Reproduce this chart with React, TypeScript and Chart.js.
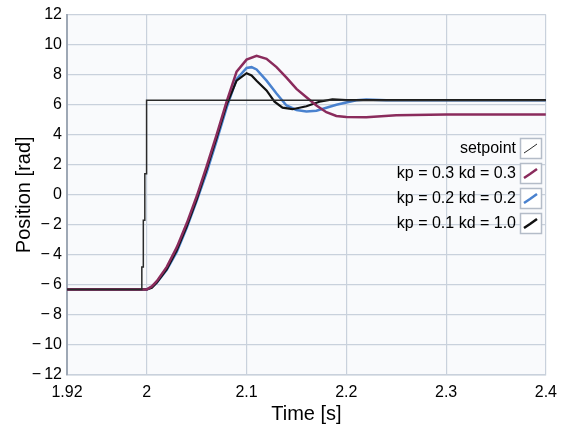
import React, { useEffect, useRef } from "react";
import { Chart, registerables } from "chart.js";

Chart.register(...registerables);

// ---- data ----
const seriesLabels = ["setpoint", "kp = 0.3 kd = 0.3", "kp = 0.2 kd = 0.2", "kp = 0.1 kd = 1.0"];
const seriesColors = ["#2b2b2b", "#8a2b5c", "#4a82cf", "#111111"];

const setpointT = [1.92, 1.995, 1.995, 1.9965, 1.9965, 1.998, 1.998, 1.9993, 1.9993, 2.0, 2.0, 2.4];
const setpointY = [-6.3, -6.3, -4.8, -4.8, -1.7, -1.7, 1.4, 1.4, 4.6, 4.6, 6.3, 6.3];

const magentaT = [1.92, 2.0, 2.005, 2.01, 2.02, 2.03, 2.04, 2.05, 2.06, 2.07, 2.08, 2.09, 2.1, 2.11, 2.12, 2.13, 2.14, 2.15, 2.16, 2.17, 2.18, 2.19, 2.2, 2.22, 2.25, 2.3, 2.4];
const magentaY = [-6.3, -6.3, -6.1, -5.75, -4.8, -3.5, -1.9, -0.1, 1.9, 4.0, 6.2, 8.2, 9.0, 9.25, 9.05, 8.5, 7.8, 7.05, 6.5, 5.95, 5.5, 5.25, 5.18, 5.16, 5.3, 5.35, 5.35];

const blueT = [1.92, 2.0, 2.005, 2.01, 2.02, 2.03, 2.04, 2.05, 2.06, 2.07, 2.08, 2.09, 2.1, 2.105, 2.11, 2.12, 2.13, 2.14, 2.15, 2.16, 2.17, 2.18, 2.19, 2.2, 2.21, 2.22, 2.24, 2.4];
const blueY = [-6.3, -6.3, -6.15, -5.85, -5.0, -3.8, -2.2, -0.4, 1.5, 3.6, 5.8, 7.7, 8.45, 8.5, 8.35, 7.6, 6.75, 5.95, 5.65, 5.55, 5.6, 5.8, 6.0, 6.15, 6.3, 6.35, 6.3, 6.3];

const blackT = [1.92, 2.0, 2.005, 2.01, 2.02, 2.03, 2.04, 2.05, 2.06, 2.07, 2.08, 2.09, 2.1, 2.105, 2.11, 2.12, 2.128, 2.136, 2.146, 2.16, 2.173, 2.186, 2.2, 2.4];
const blackY = [-6.3, -6.3, -6.2, -5.85, -4.95, -3.7, -2.1, -0.3, 1.7, 3.8, 6.0, 7.6, 8.1, 7.95, 7.6, 6.95, 6.2, 5.8, 5.7, 5.9, 6.2, 6.35, 6.3, 6.3];

const xTicks = [1.92, 2, 2.1, 2.2, 2.3, 2.4];
const yMin = -12;
const yMax = 12;
const yStep = 2;

const FONT = "'Liberation Sans', Arial, sans-serif";

const toPoints = (t: number[], y: number[]) => t.map((v, i) => ({ x: v, y: y[i] }));

const plotBg = {
  id: "plotBg",
  beforeDraw(chart: any) {
    const { ctx, chartArea } = chart;
    ctx.save();
    ctx.fillStyle = "#f9fafc";
    ctx.fillRect(chartArea.left, chartArea.top, chartArea.right - chartArea.left, chartArea.bottom - chartArea.top);
    ctx.restore();
  },
};

const insideLegend = {
  id: "insideLegend",
  afterDraw(chart: any) {
    const { ctx } = chart;
    const ds = chart.data.datasets;
    const textRight = 516;
    const boxX = 520;
    const boxW = 21;
    const boxH = 20;
    const firstTop = 138;
    const rowGap = 25;
    ctx.save();
    ctx.font = `16px ${FONT}`;
    ctx.textAlign = "right";
    ctx.textBaseline = "middle";
    ds.forEach((d: any, i: number) => {
      const top = firstTop + i * rowGap;
      ctx.fillStyle = "#000";
      ctx.fillText(d.label, textRight, top + boxH / 2 + 1);
      ctx.fillStyle = "#ffffff";
      ctx.fillRect(boxX, top, boxW, boxH);
      ctx.strokeStyle = "#b4bcc8";
      ctx.lineWidth = 1.5;
      ctx.strokeRect(boxX + 0.5, top + 0.5, boxW, boxH);
      ctx.strokeStyle = d.borderColor;
      ctx.lineWidth = i === 0 ? 1 : 2.5;
      ctx.beginPath();
      ctx.moveTo(boxX + 4, top + 15);
      ctx.lineTo(boxX + 10, top + 11);
      ctx.lineTo(boxX + 17, top + 6);
      ctx.stroke();
    });
    ctx.restore();
  },
};

export default function App() {
  const ref = useRef<HTMLCanvasElement | null>(null);

  useEffect(() => {
    document.body.style.margin = "0";
    const canvas = ref.current;
    if (!canvas) return;
    const series = [
      toPoints(setpointT, setpointY),
      toPoints(magentaT, magentaY),
      toPoints(blueT, blueY),
      toPoints(blackT, blackY),
    ];
    const widths = [1.5, 2.5, 2.5, 2.2];
    const orders = [0, 1, 3, 2];
    const chart = new Chart(canvas, {
      type: "line",
      data: {
        datasets: series.map((pts, i) => ({
          label: seriesLabels[i],
          data: pts,
          borderColor: seriesColors[i],
          backgroundColor: seriesColors[i],
          borderWidth: widths[i],
          pointRadius: 0,
          tension: 0,
          fill: false,
          order: orders[i],
        })),
      },
      options: {
        responsive: false,
        animation: false,
        layout: { padding: { left: 0, right: 18, top: 10, bottom: 0 } },
        plugins: { legend: { display: false }, tooltip: { enabled: false } },
        scales: {
          x: {
            type: "linear",
            min: 1.92,
            max: 2.4,
            afterBuildTicks: (scale: any) => {
              scale.ticks = xTicks.map((v) => ({ value: v }));
            },
            afterFit: (scale: any) => {
              scale.height = 55;
            },
            ticks: {
              color: "#000",
              font: { family: FONT, size: 16 },
              padding: 8,
              maxRotation: 0,
              autoSkip: false,
              callback: (v: any) => String(Number(v)),
            },
            grid: { color: "#c9d1dc", lineWidth: 1.2, drawTicks: false },
            border: { color: "#c9d1dc", width: 1.5 },
            title: {
              display: true,
              text: "Time [s]",
              color: "#000",
              font: { family: FONT, size: 20 },
              padding: { top: 0, bottom: 4 },
            },
          },
          y: {
            type: "linear",
            min: yMin,
            max: yMax,
            afterFit: (scale: any) => {
              scale.width = 67;
            },
            ticks: {
              stepSize: yStep,
              color: "#000",
              font: { family: FONT, size: 16 },
              padding: 5,
              callback: (v: any) => {
                const n = Number(v);
                return n < 0 ? "\u2212\u2009" + Math.abs(n) : String(n);
              },
            },
            grid: { color: "#c9d1dc", lineWidth: 1.2, drawTicks: false },
            border: { color: "#9ea8b5", width: 2 },
            title: {
              display: true,
              text: "Position [rad]",
              color: "#000",
              font: { family: FONT, size: 20 },
              padding: { top: 12, bottom: 0 },
            },
          },
        },
      },
      plugins: [plotBg, insideLegend],
    } as any);
    return () => chart.destroy();
  }, []);

  return <canvas ref={ref} width={565} height={430} style={{ display: "block", width: 565, height: 430 }} />;
}
